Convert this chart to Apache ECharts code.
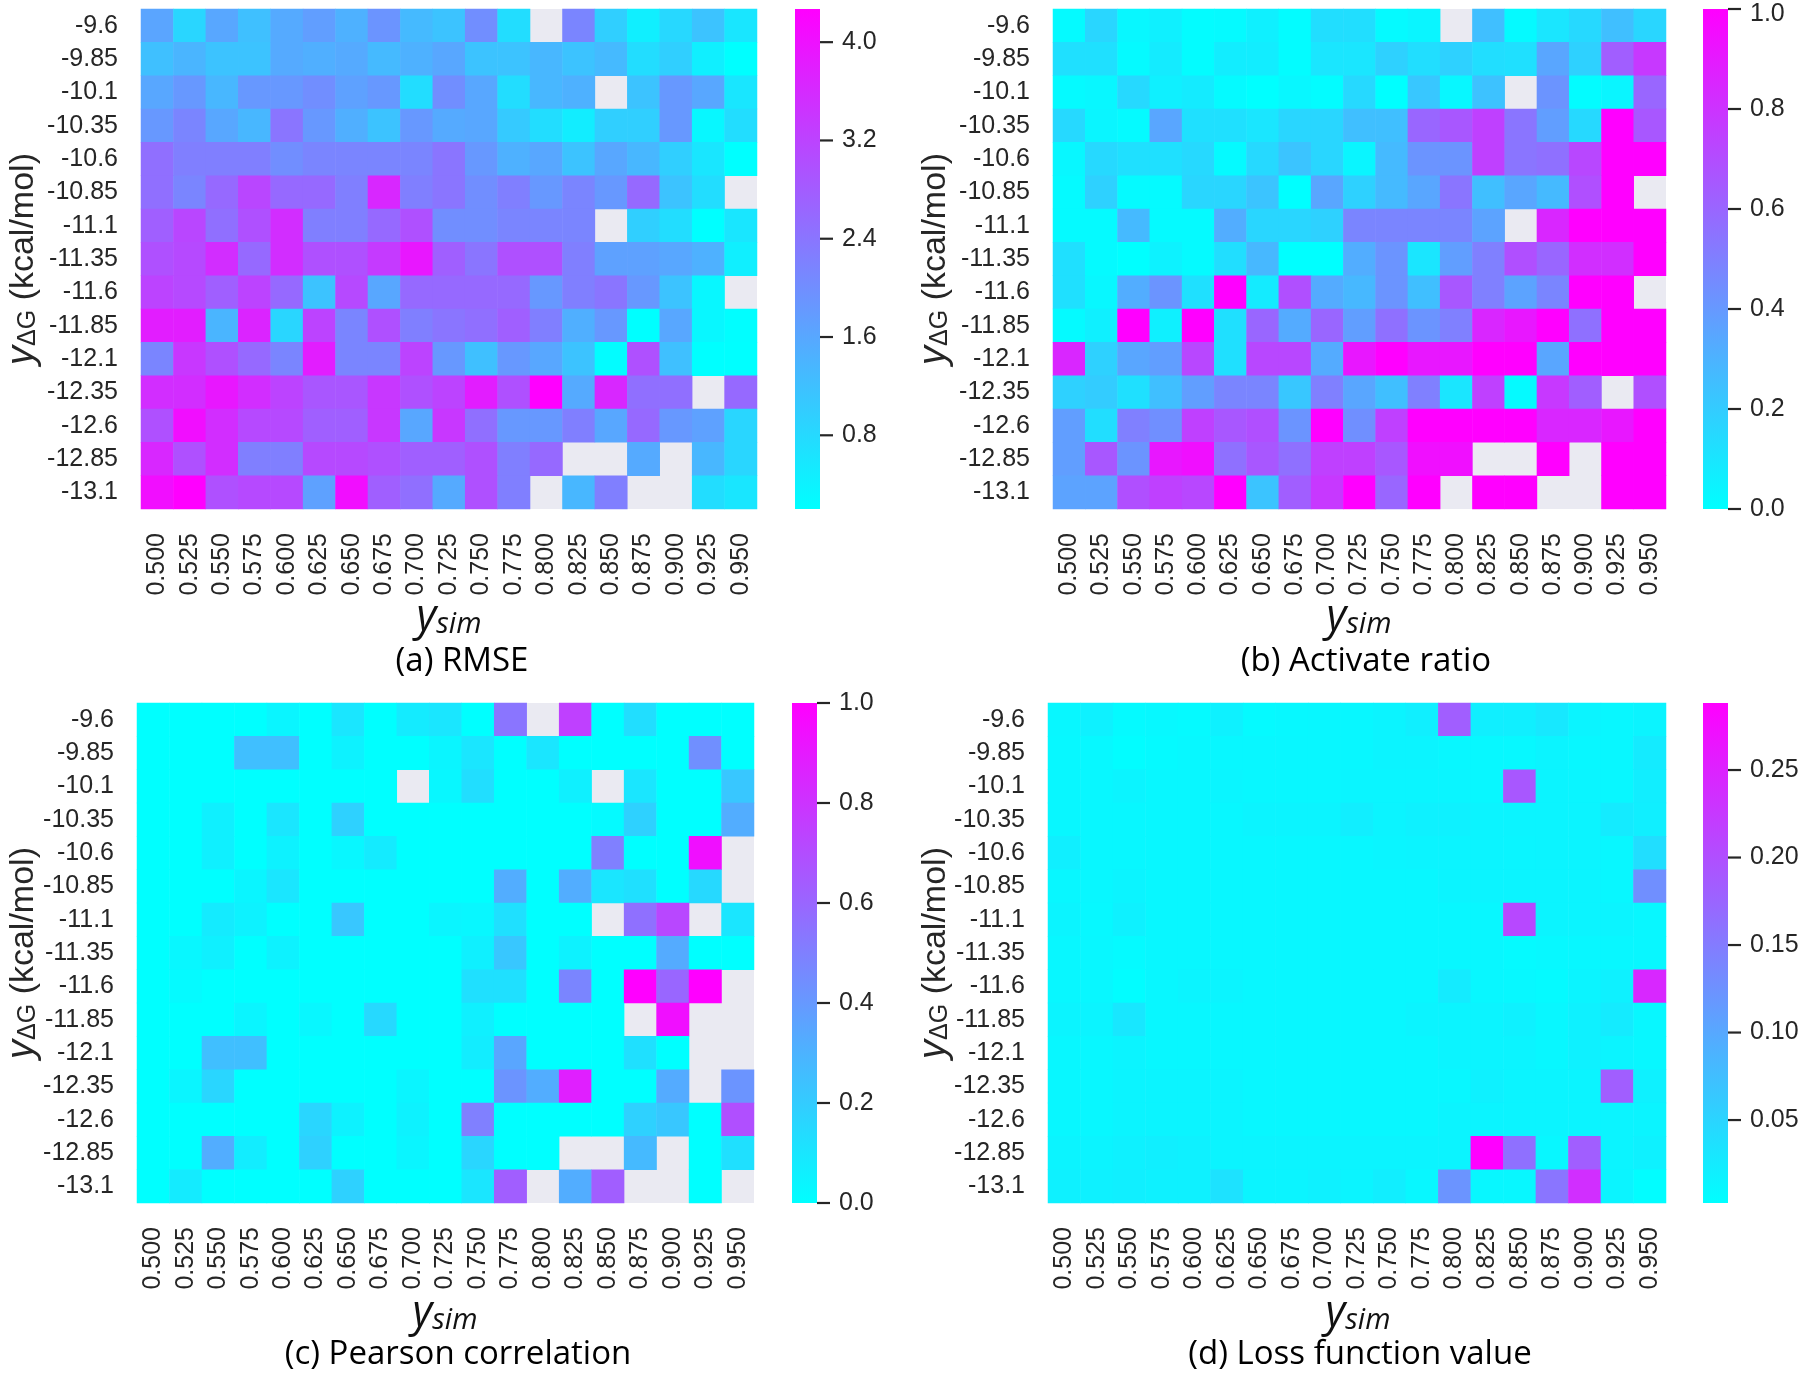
<!DOCTYPE html>
<html>
<head>
<meta charset="utf-8">
<script src="https://cdn.jsdelivr.net/npm/echarts@6/dist/echarts.min.js"></script>
<style>
html,body{margin:0;padding:0;background:#fff;}
#chart{width:1800px;height:1373px;}
</style>
</head>
<body>
<div id="chart"></div>
<script>
// ---------------- DATA ----------------
const X_CATS = ['0.500','0.525','0.550','0.575','0.600','0.625','0.650','0.675','0.700','0.725','0.750','0.775','0.800','0.825','0.850','0.875','0.900','0.925','0.950'];
const Y_CATS = ['-9.6','-9.85','-10.1','-10.35','-10.6','-10.85','-11.1','-11.35','-11.6','-11.85','-12.1','-12.35','-12.6','-12.85','-13.1'];

// (a) RMSE  rows = Y_CATS (top to bottom), cols = X_CATS
const RMSE = [
 [1.63,0.86,1.6,1.2,1.55,1.75,1.45,1.9,1.3,1.15,2.0,0.75,null,2.15,0.97,0.45,0.82,1.15,0.6],
 [1.2,1.38,1.15,1.15,1.55,1.48,1.55,1.3,1.45,1.6,1.15,1.15,1.35,1.15,1.3,0.75,0.97,0.45,0.2],
 [1.6,1.85,1.35,1.85,1.85,2.0,1.7,1.85,0.75,2.0,1.6,0.75,1.35,1.45,null,1.15,1.85,1.6,0.6],
 [1.85,2.15,1.6,1.35,2.4,1.85,1.48,1.15,1.85,1.55,1.6,1.05,0.75,0.48,0.97,0.97,1.85,0.32,0.75],
 [2.5,2.25,2.25,2.25,2.0,2.15,2.15,2.15,2.15,2.4,1.85,1.45,1.6,1.15,1.6,1.35,0.97,0.6,0.2],
 [2.5,2.15,2.6,3.15,2.6,2.6,2.25,3.65,2.25,2.4,2.0,2.25,1.85,2.15,1.85,2.6,1.15,0.75,null],
 [2.75,3.15,2.5,3.0,3.55,2.25,2.25,2.6,3.0,2.0,2.0,2.15,2.15,2.15,null,0.97,0.75,0.2,0.6],
 [3.0,3.1,3.55,2.6,3.55,3.0,3.0,3.35,3.9,2.75,2.4,3.0,3.0,2.25,1.7,1.7,1.6,1.45,0.45],
 [3.2,3.1,2.75,3.2,2.6,1.15,3.1,1.6,2.6,2.6,2.6,2.6,1.85,2.25,2.4,1.85,1.15,0.32,null],
 [3.8,3.8,1.38,3.7,0.85,3.2,2.15,3.0,2.25,2.4,2.5,2.75,2.25,1.48,1.85,0.2,1.6,0.32,0.22],
 [2.15,3.4,3.0,2.6,2.15,3.8,2.15,2.15,3.2,1.85,1.2,1.85,1.6,1.15,0.25,3.0,1.2,0.2,0.2],
 [3.55,3.55,3.9,3.55,3.2,2.9,2.9,3.4,3.0,3.2,3.8,3.0,4.27,1.55,3.65,2.5,2.5,null,2.6],
 [3.0,4.05,3.55,3.1,3.1,2.75,2.75,3.4,1.6,3.4,2.5,1.85,1.85,2.25,1.6,2.6,1.85,1.7,0.85],
 [3.65,3.0,3.55,2.25,2.25,3.1,3.1,3.0,2.75,2.75,3.0,2.25,2.6,null,null,1.55,null,1.35,0.85],
 [4.05,4.27,3.0,3.1,3.1,1.7,4.05,2.75,2.5,1.55,3.0,2.25,null,1.35,2.25,null,null,0.75,0.6]
];

// (b) Activate ratio
const ACTIVATE = [
 [0.02,0.16,0.03,0.06,0.01,0.02,0.06,0.01,0.13,0.13,0.02,0.04,null,0.25,0.02,0.1,0.15,0.25,0.16],
 [0.12,0.12,0.02,0.08,0.01,0.07,0.07,0.01,0.1,0.1,0.18,0.13,0.18,0.13,0.12,0.35,0.18,0.63,0.78],
 [0.02,0.03,0.15,0.06,0.08,0.02,0.0,0.03,0.01,0.15,0.0,0.22,0.03,0.24,null,0.42,0.01,0.04,0.6],
 [0.15,0.04,0.02,0.35,0.12,0.12,0.1,0.16,0.16,0.25,0.25,0.6,0.66,0.75,0.54,0.38,0.15,1.0,0.66],
 [0.03,0.15,0.12,0.12,0.15,0.02,0.15,0.23,0.16,0.04,0.27,0.42,0.42,0.75,0.54,0.56,0.72,1.0,1.0],
 [0.02,0.18,0.02,0.02,0.16,0.16,0.23,0.0,0.35,0.18,0.27,0.35,0.54,0.25,0.35,0.27,0.69,1.0,null],
 [0.02,0.02,0.27,0.02,0.02,0.32,0.16,0.16,0.18,0.48,0.48,0.48,0.48,0.36,null,0.85,1.0,1.0,1.0],
 [0.12,0.02,0.0,0.05,0.02,0.13,0.28,0.0,0.0,0.32,0.42,0.1,0.38,0.5,0.69,0.6,0.82,0.82,1.0],
 [0.12,0.03,0.32,0.42,0.12,1.0,0.08,0.69,0.33,0.28,0.42,0.25,0.66,0.5,0.36,0.48,1.0,1.0,null],
 [0.02,0.06,1.0,0.06,1.0,0.12,0.6,0.33,0.6,0.38,0.56,0.42,0.5,0.85,0.91,1.0,0.56,1.0,1.0],
 [0.85,0.18,0.35,0.38,0.72,0.12,0.72,0.72,0.33,0.91,1.0,0.91,0.91,1.0,1.0,0.35,1.0,1.0,1.0],
 [0.18,0.2,0.12,0.25,0.38,0.48,0.48,0.22,0.5,0.35,0.25,0.5,0.1,0.75,0.02,0.78,0.63,null,0.69],
 [0.38,0.13,0.5,0.44,0.75,0.66,0.69,0.42,1.0,0.44,0.75,1.0,1.0,1.0,1.0,0.85,0.85,0.91,1.0],
 [0.38,0.66,0.42,0.91,0.94,0.56,0.66,0.56,0.75,0.75,0.66,0.94,0.94,null,null,1.0,null,1.0,1.0],
 [0.36,0.36,0.69,0.75,0.72,1.0,0.23,0.63,0.78,1.0,0.6,1.0,null,1.0,1.0,null,null,1.0,1.0]
];

// (c) Pearson correlation
const PEARSON = [
 [0,0,0,0,0.04,0,0.1,0,0.08,0.1,0,0.54,null,0.75,0,0.13,0,0,0],
 [0,0,0,0.25,0.25,0,0.05,0,0,0.04,0.1,0,0.1,0,0,0,0,0.44,0],
 [0,0,0,0,0,0,0,0,null,0.03,0.13,0,0,0.06,null,0.1,0,0,0.22],
 [0,0,0.06,0,0.1,0,0.18,0,0,0,0,0,0,0,0.02,0.18,0,0,0.32],
 [0,0,0.06,0,0.05,0,0.03,0.08,0,0,0,0,0,0,0.5,0,0,0.94,null],
 [0,0,0,0.04,0.1,0,0,0,0,0,0,0.32,0,0.32,0.1,0.12,0,0.15,null],
 [0,0,0.08,0.05,0,0,0.22,0,0,0.04,0.03,0.12,0,0,null,0.56,0.72,null,0.1],
 [0,0.03,0.06,0,0.05,0,0,0,0,0,0.06,0.22,0,0.05,0,0,0.33,0,0],
 [0,0.02,0,0,0,0,0,0,0,0,0.12,0.12,0,0.48,0,1.0,0.6,1.0,null],
 [0,0,0,0.04,0,0.03,0,0.15,0,0,0.06,0,0,0,0,null,0.94,null,null],
 [0,0,0.25,0.25,0,0,0,0,0,0,0.07,0.35,0,0,0,0.12,0,null,null],
 [0,0.04,0.16,0,0,0,0,0,0.04,0,0,0.42,0.32,0.88,0,0,0.33,null,0.42],
 [0,0,0,0,0,0.16,0.05,0,0.05,0,0.5,0,0,0,0,0.18,0.22,0,0.69],
 [0,0,0.32,0.07,0,0.18,0,0,0.04,0,0.16,0,0,null,null,0.27,null,0,0.12],
 [0,0.08,0,0,0,0,0.18,0,0,0,0.1,0.63,null,0.32,0.63,null,null,0,null]
];

// (d) Loss function value
const LOSS = [
 [0.012,0.018,0.008,0.01,0.008,0.018,0.008,0.01,0.012,0.012,0.015,0.02,0.183,0.02,0.02,0.028,0.015,0.012,0.015],
 [0.01,0.01,0.005,0.008,0.01,0.012,0.012,0.012,0.012,0.012,0.015,0.015,0.012,0.01,0.01,0.015,0.012,0.012,0.025],
 [0.012,0.012,0.015,0.012,0.012,0.014,0.012,0.012,0.012,0.014,0.014,0.014,0.014,0.012,0.191,0.015,0.014,0.012,0.022],
 [0.012,0.012,0.012,0.012,0.012,0.012,0.015,0.015,0.015,0.022,0.015,0.018,0.018,0.015,0.015,0.015,0.015,0.025,0.02],
 [0.02,0.012,0.012,0.012,0.012,0.012,0.012,0.012,0.012,0.012,0.014,0.015,0.015,0.015,0.014,0.015,0.015,0.012,0.04],
 [0.012,0.012,0.015,0.012,0.012,0.012,0.012,0.012,0.012,0.012,0.012,0.012,0.015,0.015,0.015,0.015,0.015,0.012,0.128],
 [0.015,0.01,0.018,0.012,0.012,0.012,0.012,0.012,0.012,0.012,0.012,0.012,0.012,0.012,0.208,0.015,0.015,0.015,0.012],
 [0.012,0.012,0.008,0.012,0.012,0.012,0.012,0.012,0.012,0.012,0.012,0.012,0.012,0.012,0.008,0.01,0.012,0.012,0.012],
 [0.012,0.012,0.005,0.012,0.015,0.015,0.012,0.012,0.012,0.012,0.012,0.012,0.025,0.012,0.01,0.008,0.015,0.018,0.245],
 [0.015,0.015,0.03,0.012,0.012,0.012,0.012,0.012,0.012,0.012,0.012,0.015,0.015,0.015,0.018,0.012,0.018,0.025,0.012],
 [0.012,0.012,0.015,0.012,0.012,0.012,0.012,0.012,0.012,0.012,0.012,0.012,0.015,0.015,0.015,0.012,0.018,0.015,0.012],
 [0.012,0.012,0.015,0.015,0.015,0.015,0.012,0.012,0.012,0.012,0.012,0.012,0.012,0.018,0.015,0.015,0.015,0.183,0.018],
 [0.012,0.012,0.015,0.015,0.015,0.015,0.012,0.012,0.012,0.012,0.012,0.012,0.015,0.015,0.015,0.015,0.015,0.015,0.015],
 [0.015,0.015,0.018,0.02,0.018,0.015,0.015,0.015,0.015,0.015,0.015,0.015,0.015,0.288,0.163,0.012,0.183,0.015,0.018],
 [0.018,0.018,0.02,0.018,0.018,0.035,0.015,0.015,0.018,0.015,0.022,0.012,0.123,0.012,0.012,0.157,0.237,0.015,0.005]
];

// colour-bar extents and ticks
const RMSE_RANGE = [0.2, 4.27];
const RATIO_RANGE = [0, 1];
const LOSS_RANGE = [0.0026, 0.2883];
const RMSE_TICKS = [0.8, 1.6, 2.4, 3.2, 4.0];
const RATIO_TICKS = [0, 0.2, 0.4, 0.6, 0.8, 1.0];
const LOSS_TICKS = [0.05, 0.10, 0.15, 0.20, 0.25];
const TITLES = ['(a) RMSE', '(b) Activate ratio', '(c) Pearson correlation', '(d) Loss function value'];

// ---------------- LAYOUT ----------------
const PANELS = [
  {data: RMSE,     range: RMSE_RANGE,  ticks: RMSE_TICKS,  dec: 1, grid: [141, 9, 616, 500],   barX: 795,  yName: [20, 259],  xName: [449, 617],  title: [462, 662]},
  {data: ACTIVATE, range: RATIO_RANGE, ticks: RATIO_TICKS, dec: 1, grid: [1053, 9, 613, 500],  barX: 1703, yName: [932, 259], xName: [1359, 617], title: [1366, 662]},
  {data: PEARSON,  range: RATIO_RANGE, ticks: RATIO_TICKS, dec: 1, grid: [137, 703, 617, 500], barX: 792,  yName: [20, 953],  xName: [445, 1313], title: [458, 1355]},
  {data: LOSS,     range: LOSS_RANGE,  ticks: LOSS_TICKS,  dec: 2, grid: [1048, 703, 618, 500],barX: 1703, yName: [932, 953], xName: [1358, 1313],title: [1360, 1355]}
];

const TICK_FONT = 'Liberation Sans';
const TICK_SIZE = 25;
const TXT = '#262626';
const CMAP = ['#00ffff', '#ff00ff'];
const BAR_W = 25;

const grids = [], xAxes = [], yAxes = [], series = [], visualMaps = [], graphics = [];

PANELS.forEach((p, i) => {
  const [gl, gt, gw, gh] = p.grid;
  grids.push({left: gl, top: gt, width: gw, height: gh, show: true, backgroundColor: '#eaeaf2', borderWidth: 0,
    outerBoundsMode: 'none'});
  xAxes.push({
    type: 'category', gridIndex: i, data: X_CATS, position: 'bottom',
    axisLine: {show: false}, axisTick: {show: false}, splitLine: {show: false},
    axisLabel: {rotate: 90, margin: 24, fontSize: TICK_SIZE, fontFamily: TICK_FONT, color: TXT, interval: 0}
  });
  yAxes.push({
    type: 'category', gridIndex: i, data: Y_CATS, inverse: true,
    axisLine: {show: false}, axisTick: {show: false}, splitLine: {show: false},
    axisLabel: {margin: 23, fontSize: TICK_SIZE, fontFamily: TICK_FONT, color: TXT, interval: 0}
  });
  const cells = [];
  p.data.forEach((row, r) => row.forEach((v, c) => { if (v !== null) cells.push([c, r, v]); }));
  series.push({
    type: 'heatmap', xAxisIndex: i, yAxisIndex: i, data: cells,
    itemStyle: {borderWidth: 0}, emphasis: {disabled: true}, progressive: 0
  });
  // colour mapping only (the bar itself is drawn below through the value scale)
  visualMaps.push({
    type: 'continuous', show: false, seriesIndex: i, dimension: 2, min: p.range[0], max: p.range[1],
    inRange: {color: CMAP}
  });
});

// colour bars: a hidden value axis on each heatmap grid (same vertical extent as the bar);
// the gradient bar, tick marks and tick labels are drawn by custom series through that axis
PANELS.forEach((p, i) => {
  const ai = yAxes.length;
  yAxes.push({type: 'value', gridIndex: i, show: false, position: 'right', min: p.range[0], max: p.range[1]});
  series.push({
    type: 'custom', xAxisIndex: i, yAxisIndex: ai, silent: true, clip: false, z: 4,
    data: [[0, p.range[0], p.range[1]]],
    renderItem: (params, api) => {
      const yTop = api.coord([0, api.value(2)])[1];
      const yBot = api.coord([0, api.value(1)])[1];
      return {type: 'rect', shape: {x: p.barX, y: yTop, width: BAR_W, height: yBot - yTop},
        style: {fill: {type: 'linear', x: 0, y: 0, x2: 0, y2: 1,
          colorStops: [{offset: 0, color: CMAP[1]}, {offset: 1, color: CMAP[0]}]}}};
    }
  });
  series.push({
    type: 'custom', xAxisIndex: i, yAxisIndex: ai, silent: true, clip: false, z: 5,
    data: p.ticks.map(v => [0, v]),
    renderItem: (params, api) => {
      const val = api.value(1);
      const y = api.coord([0, val])[1];
      const x = p.barX + BAR_W;
      return {type: 'group', children: [
        {type: 'line', shape: {x1: x, y1: y, x2: x + 13, y2: y}, style: {stroke: TXT, lineWidth: 2.2}},
        {type: 'text', x: x + 22, y: Math.max(y, 14),
          style: {text: Number(val).toFixed(p.dec), fill: TXT, fontSize: TICK_SIZE, fontFamily: TICK_FONT,
            align: 'left', verticalAlign: 'middle', textAlign: 'left', textVerticalAlign: 'middle'}}
      ]};
    }
  });
});

// axis names and panel titles
PANELS.forEach((p, i) => {
  graphics.push({
    type: 'text', x: p.yName[0], y: p.yName[1], rotation: Math.PI / 2,
    style: {
      text: '{v|y}{s|ΔG}{n| (kcal/mol)}', align: 'center', verticalAlign: 'middle',
      textAlign: 'center', textVerticalAlign: 'middle',
      rich: {
        v: {fontSize: 38, fontStyle: 'italic', fontFamily: TICK_FONT, fill: TXT, lineHeight: 42, verticalAlign: 'bottom'},
        s: {fontSize: 25, fontFamily: TICK_FONT, fill: TXT, lineHeight: 20, verticalAlign: 'bottom'},
        n: {fontSize: 34, fontFamily: TICK_FONT, fill: TXT, lineHeight: 42, verticalAlign: 'bottom'}
      }
    }
  });
  graphics.push({
    type: 'text', x: p.xName[0], y: p.xName[1],
    style: {
      text: '{v|y}{s|sim}', align: 'center', verticalAlign: 'middle',
      textAlign: 'center', textVerticalAlign: 'middle',
      rich: {
        v: {fontSize: 43, fontStyle: 'italic', fontFamily: 'Open Sans', fill: '#111', lineHeight: 44, verticalAlign: 'bottom'},
        s: {fontSize: 29, fontStyle: 'italic', fontFamily: 'Open Sans', fill: '#111', lineHeight: 24, verticalAlign: 'bottom'}
      }
    }
  });
  graphics.push({
    type: 'text', x: p.title[0], y: p.title[1],
    style: {text: TITLES[i], fontSize: 33, fontFamily: 'Open Sans', fill: '#000',
      align: 'center', verticalAlign: 'middle', textAlign: 'center', textVerticalAlign: 'middle'}
  });
});

const chart = echarts.init(document.getElementById('chart'), null, {renderer: 'canvas'});
chart.setOption({
  animation: false,
  backgroundColor: '#ffffff',
  grid: grids, xAxis: xAxes, yAxis: yAxes,
  visualMap: visualMaps, series: series, graphic: graphics
});
</script>
</body>
</html>
